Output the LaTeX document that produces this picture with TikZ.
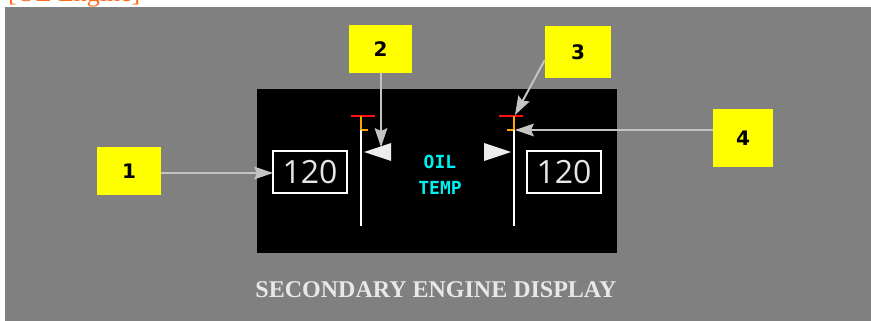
\documentclass[tikz,border=0pt]{standalone}
\usepackage{fontspec}
\setmainfont{Liberation Serif}
\newfontfamily\digfont{Open Sans}
\newfontfamily\monofont{DejaVu Sans Mono}
\newfontfamily\labfont{DejaVu Sans}
\usetikzlibrary{calc}
\definecolor{bggray}{HTML}{808080}
\definecolor{callyel}{HTML}{FFFF00}
\definecolor{arrgray}{HTML}{C4C4C4}
\definecolor{digwhite}{HTML}{E6E6E6}
\definecolor{oilcyan}{HTML}{00F0F0}
\definecolor{tickred}{HTML}{FF1010}
\definecolor{tickorange}{HTML}{FFA500}
\definecolor{linkorange}{HTML}{FF6A1A}
\definecolor{capgray}{HTML}{E8E8E8}
\tikzset{
  callout/.style={fill=callyel, draw=none, inner sep=0pt, font=\labfont\bfseries\fontsize{20}{20}\selectfont, text=black},
  readout/.style={draw=white, line width=1.5pt, inner sep=0pt, text=digwhite, font=\digfont\fontsize{32}{32}\selectfont},
  leader/.style={draw=arrgray, line width=2pt},
  headfill/.style={fill=arrgray, draw=none},
  scaleline/.style={draw=white, line width=1.6pt},
  redtick/.style={draw=tickred, line width=2pt},
  orangetick/.style={draw=tickorange, line width=1.8pt},
  pointer/.style={fill=white!93!black, draw=none},
  oiltext/.style={text=oilcyan, font=\monofont\bfseries\fontsize{18}{18}\selectfont, inner sep=0pt}
}
% kite-shaped arrowhead from coordinate #1 towards tip #2
\newcommand\tiphead[2]{%
  \coordinate (hb) at ($(#2)!19pt!(#1)$);
  \coordinate (hn) at ($(#2)!16pt!(#1)$);
  \fill[headfill] (#2) -- ($(hb)!6.5pt!90:(#2)$) -- (hn) -- ($(hb)!6.5pt!-90:(#2)$) -- cycle;
}
\begin{document}
\begin{tikzpicture}[x=1pt,y=-1pt]
\useasboundingbox (0,0) rectangle (871,321);
% clipped top link text
\begin{scope}
\clip (0,0) rectangle (871,7);
\node[anchor=base west, text=linkorange, font=\fontsize{26}{26}\selectfont, inner sep=0pt] (toplink) at (8,1.5) {[OE Engine]};
\end{scope}
% background
\fill[bggray] (5,7) rectangle (871,321);
% display
\fill[black] (257,89) rectangle (617,253);
% readouts
\node[readout, minimum width=74pt, minimum height=42pt] (rdl) at (310,172) {120};
\node[readout, minimum width=74pt, minimum height=42pt] (rdr) at (564,172) {120};
% left gauge
\draw[redtick] (351,116) -- (375,116);
\draw[orangetick] (361,116) -- (361,130) -- (368,130);
\draw[scaleline] (361,130) -- (361,226);
\fill[pointer] (364,152) -- (391,143) -- (391,161) -- cycle;
% right gauge
\draw[redtick] (499,116) -- (523,116);
\draw[orangetick] (514,116) -- (514,130) -- (507,130);
\draw[scaleline] (514,130) -- (514,226);
\fill[pointer] (511,152) -- (484,143) -- (484,161) -- cycle;
% OIL TEMP
\node[oiltext] (oil) at (440,162) {OIL};
\node[oiltext] (temp) at (440,188) {TEMP};
% callouts
\node[callout, minimum width=64pt, minimum height=48pt] (c1) at (129,171) {1};
\node[callout, minimum width=63pt, minimum height=48pt] (c2) at (380.5,49) {2};
\node[callout, minimum width=66pt, minimum height=52pt] (c3) at (578,52) {3};
\node[callout, minimum width=60pt, minimum height=58pt] (c4) at (743,138) {4};
% arrow targets and starts
\coordinate (t1) at (273,173);
\coordinate (t2) at (381,147);
\coordinate (t3) at (515,115);
\coordinate (t4) at (515,130);
\coordinate (s1) at (c1.east |- t1);
\coordinate (s2) at (c2.south -| t2);
\coordinate (s3) at ([yshift=-8pt]c3.west);
\coordinate (s4) at (c4.west |- t4);
\draw[leader] (s1) -- ($(t1)!10pt!(s1)$);
\draw[leader] (s2) -- ($(t2)!10pt!(s2)$);
\draw[leader] (s3) -- ($(t3)!10pt!(s3)$);
\draw[leader] (s4) -- ($(t4)!10pt!(s4)$);
\tiphead{s1}{t1}
\tiphead{s2}{t2}
\tiphead{s3}{t3}
\tiphead{s4}{t4}
% caption
\node[text=capgray, font=\bfseries\fontsize{24}{24}\selectfont, inner sep=0pt] (cap) at (436,290) {SECONDARY ENGINE DISPLAY};
\end{tikzpicture}
\end{document}
